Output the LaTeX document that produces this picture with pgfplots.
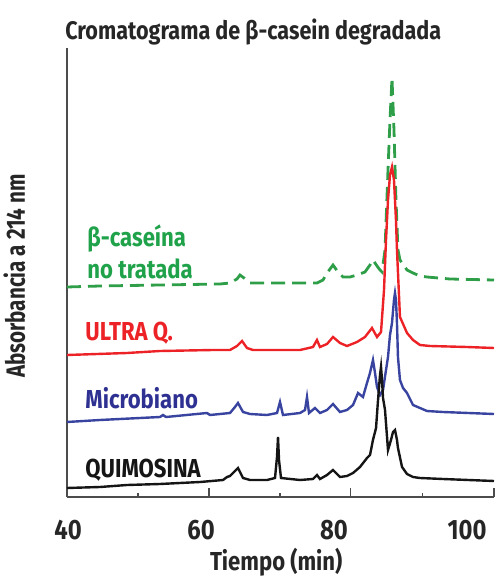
\documentclass[border=0pt]{standalone}
\usepackage{fontspec}
\setmainfont{Fira Sans}[FakeStretch=0.85]
\newfontfamily\narrowfont{Fira Sans}[FakeStretch=0.78]
\usepackage{pgfplots}
\pgfplotsset{compat=1.18}
\definecolor{cgreen}{HTML}{2E9E48}
\definecolor{cred}{HTML}{EC2227}
\definecolor{cblue}{HTML}{3944A0}
\definecolor{cblack}{HTML}{151515}
\definecolor{tgreen}{HTML}{1FA24A}
\definecolor{tblue}{HTML}{2E3192}

\begin{document}
\begin{tikzpicture}
\useasboundingbox (-33.5pt,-41pt) rectangle (215.5pt,248.5pt);
\begin{axis}[
  scale only axis, width=213.5pt, height=224.5pt,
  xmin=39.85, xmax=104.06, ymin=0, ymax=449,
  axis x line=bottom, axis y line=left,
  axis line style={-, black!70, line width=0.8pt},
  ytick=\empty,
  xtick={40,60,80,100}, major tick length=0pt,
  extra x ticks={39.85,61.2,82.5,104.06}, extra x tick labels={},
  extra x tick style={major tick length=4.5pt, tick align=inside},
  minor xtick={50.5,71.9,93.3}, minor tick length=2pt,
  tick style={black!70, line width=0.8pt}, tick align=inside,
  /pgf/number format/assume math mode=true,
  xticklabel style={font=\fontsize{14}{16}\selectfont\bfseries, anchor=base, yshift=-21pt, text=black!85},
  clip=false,
]
\addplot[cgreen, line width=1.4pt, dash pattern=on 7pt off 3.5pt] coordinates {
(39.85,210) (44.81,211) (53.83,212) (62.86,213) (64.36,214) (65.41,218) (65.86,222)
(66.47,219) (67.37,214) (77.44,214) (78.35,217) (78.95,224) (79.85,232) (80.60,225)
(81.35,220) (82.41,220) (83.46,222) (84.66,225) (85.41,232) (85.86,237) (86.47,231)
(86.92,227) (87.22,225) (87.67,247) (88.12,327) (88.42,377) (88.72,419) (89.02,367)
(89.32,297) (89.62,247) (89.92,237) (90.98,227) (91.88,224) (92.93,221) (93.98,220)
(97.44,218) (104.06,217)};
\addplot[cred, line width=1.2pt] coordinates {
(39.85,142) (48.87,144) (53.83,146) (61.80,147) (64.36,147) (65.41,151) (66.17,156)
(66.92,149) (67.82,147) (74.89,147) (76.84,150) (77.44,157) (77.89,150) (78.95,153)
(79.85,160) (80.90,154) (81.95,151) (83.46,155) (84.66,160) (85.71,169) (86.47,160)
(87.07,165) (87.52,207) (87.82,257) (88.12,297) (88.42,322) (88.72,330) (89.02,317)
(89.32,277) (89.47,247) (89.92,180) (90.98,164) (91.88,157) (92.93,152) (94.44,151)
(100.0,150) (104.06,149)};
\addplot[cblue, line width=1.2pt] coordinates {
(39.85,75) (44.81,77) (53.83,80) (54.29,82) (54.74,80) (60.90,84) (61.35,82) (64.36,84)
(65.11,90) (65.56,94) (66.32,85) (67.37,83) (69.92,82) (71.43,84) (71.88,95) (72.33,82)
(74.89,84) (75.64,87) (75.94,100) (76.24,84) (77.14,89) (77.89,84) (78.95,87) (79.85,93)
(80.90,85) (81.95,87) (82.86,92) (83.61,104) (84.36,100) (84.96,114) (85.41,124)
(85.86,137) (86.17,124) (86.47,110) (86.92,102) (87.37,107) (87.82,127) (88.12,140)
(88.42,162) (88.72,174) (89.02,197) (89.17,204) (89.32,197) (89.47,174) (89.62,140)
(89.92,117) (90.38,109) (90.98,104) (91.88,92) (92.93,89) (93.98,86) (96.39,85) (104.06,83)};
\addplot[cblack, line width=1.2pt] coordinates {
(39.85,9) (44.81,10) (48.87,12) (53.83,13) (59.85,15) (63.31,17) (63.91,20) (64.36,21)
(64.81,24) (65.56,29) (66.32,19) (67.37,17) (69.92,17) (71.13,19) (71.43,40) (71.58,60)
(71.73,37) (72.03,19) (74.89,17) (76.84,18) (77.44,22) (77.89,18) (78.95,22) (79.85,27)
(80.90,20) (81.95,21) (82.86,24) (83.91,30) (84.96,39) (85.41,42) (85.86,57) (86.32,69)
(86.62,97) (86.92,122) (87.07,130) (87.22,117) (87.37,99) (87.67,87) (88.12,47)
(88.57,57) (88.87,65) (89.17,67) (89.47,57) (89.62,49) (90.23,30) (90.98,23) (91.88,20)
(92.93,19) (96.39,18) (104.06,16)};
\tikzset{lab/.style={anchor=base west, inner sep=0pt, font=\fontsize{13}{15}\selectfont\bfseries}}
\node[lab, text=tgreen] at (axis cs:42.86,250) {β-caseína};
\node[lab, text=tgreen] at (axis cs:42.86,219) {no tratada};
\node[lab, text=cred] at (axis cs:42.56,157) {ULTRA Q.};
\node[lab, text=tblue] at (axis cs:42.56,89) {Microbiano};
\node[lab, text=cblack] at (axis cs:42.56,20) {QUIMOSINA};
% title, axis labels
\node[anchor=base west, inner sep=0pt, text=black!85, font=\fontsize{12.7}{15}\selectfont\bfseries]
  at ([yshift=4pt]axis description cs:-0.005,1) {Cromatograma de β-casein degradada};
\node[anchor=base, inner sep=0pt, text=black!85, font=\fontsize{13}{15}\selectfont\bfseries]
  at ([yshift=-36.5pt]axis description cs:0.49,0) {Tiempo (min)};
\node[anchor=base, rotate=90, inner sep=0pt, text=black!85, font=\narrowfont\fontsize{13.2}{15}\selectfont\bfseries]
  at ([xshift=-21pt]axis description cs:0,0.492) {Absorbancia a 214 nm};
\end{axis}
\end{tikzpicture}
\end{document}
